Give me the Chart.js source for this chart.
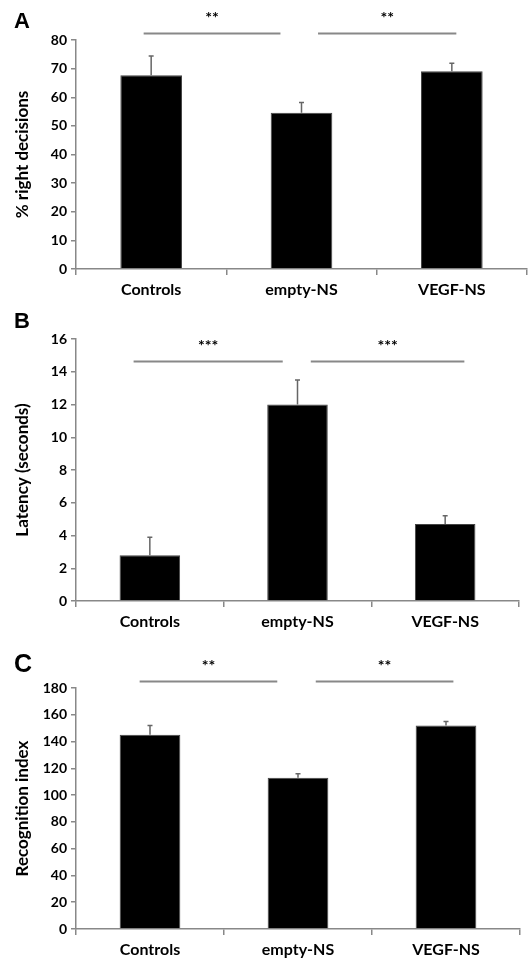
<!DOCTYPE html>
<html>
<head>
<meta charset="utf-8">
<script src="https://cdn.jsdelivr.net/npm/chart.js@4.4.1/dist/chart.umd.min.js"></script>
<style>
  html, body { margin: 0; padding: 0; background: #fff; }
  body { width: 531px; height: 967px; position: relative; overflow: hidden; }
  canvas { position: absolute; left: 0; }
</style>
</head>
<body>
<canvas id="chartA" width="531" height="310" style="top:0"></canvas>
<canvas id="chartB" width="531" height="330" style="top:310px"></canvas>
<canvas id="chartC" width="531" height="327" style="top:640px"></canvas>
<script>
const groups = ['Controls', 'empty-NS', 'VEGF-NS'];

// panel A
const rightDecisions = [67.7, 54.6, 69.1];
const rightDecisionsErr = [6.7, 3.6, 2.8];
const rightDecisionsTicks = [0, 80, 10];

// panel B
const latency = [2.8, 12.0, 4.7];
const latencyErr = [1.1, 1.5, 0.5];
const latencyTicks = [0, 16, 2];

// panel C
const recognition = [145, 113, 152];
const recognitionErr = [7, 3, 3];
const recognitionTicks = [0, 180, 20];

// significance brackets: [from, to] in category units, height in value units, label
const sigA = [[-0.05, 0.86, 82.5, '**'], [1.11, 2.03, 82.5, '**']];
const sigB = [[-0.11, 0.90, 14.65, '***'], [1.09, 2.13, 14.65, '***']];
const sigC = [[-0.07, 0.86, 185, '**'], [1.12, 2.05, 185, '**']];

const FONT = 'Lato, "Liberation Sans", sans-serif';

const overlay = {
  id: 'overlay',
  afterDatasetsDraw(chart, args, opts) {
    const ctx = chart.ctx;
    const x = chart.scales.x, y = chart.scales.y;
    const vals = chart.data.datasets[0].data;
    ctx.save();
    // error bars (upper only)
    ctx.strokeStyle = '#666';
    ctx.lineWidth = 1.5;
    vals.forEach((v, i) => {
      const px = x.getPixelForValue(i);
      const top = y.getPixelForValue(v + opts.errors[i]);
      ctx.beginPath();
      ctx.moveTo(px, y.getPixelForValue(v));
      ctx.lineTo(px, top);
      ctx.moveTo(px - 2.5, top);
      ctx.lineTo(px + 2.5, top);
      ctx.stroke();
    });
    // significance lines
    ctx.strokeStyle = '#888';
    ctx.lineWidth = 2;
    ctx.fillStyle = '#000';
    ctx.font = 'bold 16px ' + FONT;
    ctx.textAlign = 'center';
    ctx.textBaseline = 'middle';
    opts.sig.forEach(([a, b, h, label]) => {
      const x1 = x.getPixelForValue(a), x2 = x.getPixelForValue(b);
      const py = Math.round(y.getPixelForValue(h)) + 0.5;
      ctx.beginPath();
      ctx.moveTo(x1, py);
      ctx.lineTo(x2, py);
      ctx.stroke();
      ctx.fillText(label, (x1 + x2) / 2, py - 16);
    });
    // panel letter
    ctx.textAlign = 'left';
    ctx.textBaseline = 'alphabetic';
    ctx.font = 'bold ' + opts.letterSize + 'px "Liberation Sans", Arial, sans-serif';
    ctx.fillText(opts.letter, 14, opts.letterY);
    ctx.restore();
  }
};

function makePanel(id, letter, letterY, letterSize, values, errors, ticks, sig, title, pad, xHeight) {
  new Chart(document.getElementById(id), {
    type: 'bar',
    data: {
      labels: groups,
      datasets: [{
        data: values,
        backgroundColor: '#000',
        borderColor: '#444',
        borderWidth: 1,
        barPercentage: 0.41,
        categoryPercentage: 1
      }]
    },
    options: {
      responsive: false,
      animation: false,
      layout: { padding: pad },
      plugins: {
        legend: { display: false },
        tooltip: { enabled: false },
        overlay: { errors: errors, sig: sig, letter: letter, letterY: letterY, letterSize: letterSize }
      },
      scales: {
        x: {
          grid: { display: true, drawOnChartArea: false, tickLength: 6, color: '#888', lineWidth: 1.5, offset: true },
          border: { color: '#888', width: 1.5 },
          ticks: { color: '#000', font: { family: FONT, weight: 'bold', size: 16 }, padding: 5 },
          afterFit: s => { s.height = xHeight; }
        },
        y: {
          min: ticks[0],
          max: ticks[1],
          ticks: { stepSize: ticks[2], color: '#000', font: { family: FONT, weight: 'bold', size: 14 }, padding: 4 },
          grid: { display: true, drawOnChartArea: false, tickLength: 5, color: '#888', lineWidth: 1.5 },
          border: { color: '#888', width: 1.5 },
          title: {
            display: true,
            text: title,
            color: '#000',
            font: { family: FONT, weight: 'bold', size: 17 },
            padding: { top: 12, bottom: 0 }
          },
          afterFit: s => { s.width = 76 - pad.left; }
        }
      }
    },
    plugins: [overlay]
  });
}

makePanel('chartA', 'A', 28, 22, rightDecisions, rightDecisionsErr, rightDecisionsTicks, sigA,
  '% right decisions', { top: 40, right: 4, left: 0, bottom: 0 }, 41);
makePanel('chartB', 'B', 18, 22, latency, latencyErr, latencyTicks, sigB,
  'Latency (seconds)', { top: 29, right: 12, left: 0, bottom: 0 }, 39);
makePanel('chartC', 'C', 32, 25, recognition, recognitionErr, recognitionTicks, sigC,
  'Recognition index', { top: 48, right: 11, left: 0, bottom: 0 }, 38);
</script>
</body>
</html>
